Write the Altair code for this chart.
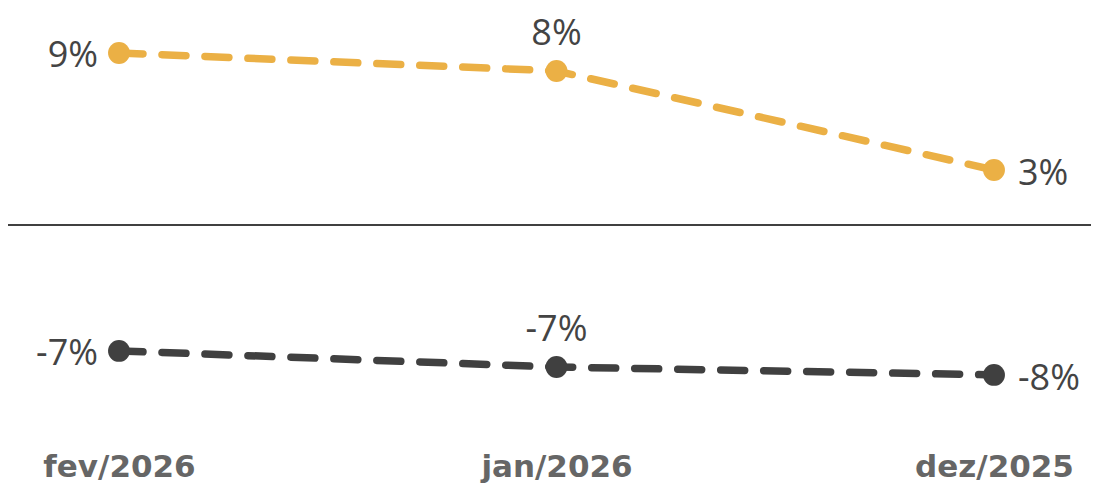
import altair as alt
import pandas as pd

months = ["fev/2026", "jan/2026", "dez/2025"]
series_pos = [0.0896, 0.0802, 0.0286]
series_neg = [-0.0656, -0.0740, -0.0781]
label_pos = ["left", "top", "right"]

rows = []
for m, v, p in zip(months, series_pos, label_pos):
    rows.append({"month": m, "value": v, "series": "pos", "lpos": p})
for m, v, p in zip(months, series_neg, label_pos):
    rows.append({"month": m, "value": v, "series": "neg", "lpos": p})
df = pd.DataFrame(rows)

FONT = "Open Sans"
YDOM = [-0.1141, 0.1130]
x = alt.X("month:N", sort=months,
          scale=alt.Scale(type="point", domain=months, range=[111, 986], padding=0),
          axis=alt.Axis(title=None, domain=False, ticks=False, grid=False, labelAngle=0,
                        labelFont="DejaVu Sans", labelFontSize=31, labelFontWeight="bold",
                        labelColor="#666666", labelPadding=8))
y = alt.Y("value:Q", scale=alt.Scale(domain=YDOM, nice=False, zero=False), axis=None)
color = alt.Color("series:N", scale=alt.Scale(domain=["pos", "neg"], range=["#EBB045", "#404040"]),
                  legend=None)

base = alt.Chart(df).transform_calculate(
    lab="replace(format(datum.value, '.0%'), '\u2212', '-')")

line = base.mark_line(strokeWidth=7.5, strokeDash=[24, 19], strokeCap="round").encode(
    x=x, y=y, color=color, detail="series:N")
pts = base.mark_circle(size=480, opacity=1).encode(x=x, y=y, color=color)

zero = alt.Chart(pd.DataFrame({"z": [0]})).mark_rule(color="#000000", strokeWidth=1.5).encode(
    y=alt.Y("z:Q", scale=alt.Scale(domain=YDOM, nice=False, zero=False), axis=None),
    x=alt.value(-8), x2=alt.value(1091))

txt_common = dict(font=FONT, fontSize=36, color="#444444")
lab_left = base.transform_filter(alt.datum.lpos == "left").mark_text(
    align="right", baseline="alphabetic", dx=-21, dy=14, **txt_common).encode(
    x=x, y=y, text="lab:N")
lab_top = base.transform_filter(alt.datum.lpos == "top").mark_text(
    align="center", baseline="alphabetic", dy=-26, **txt_common).encode(
    x=x, y=y, text="lab:N")
lab_right = base.transform_filter(alt.datum.lpos == "right").mark_text(
    align="left", baseline="alphabetic", dx=24, dy=15, **txt_common).encode(
    x=x, y=y, text="lab:N")

chart = alt.layer(zero, line, pts, lab_left, lab_top, lab_right).properties(
    width=1083, height=436,
    autosize=alt.AutoSizeParams(type="none"),
    padding={"left": 0, "top": 0, "right": 0, "bottom": 40},
).configure(background="white").configure_view(strokeWidth=0, stroke="transparent")

chart.save("out.html", embed_options={"renderer": "svg", "actions": False})
